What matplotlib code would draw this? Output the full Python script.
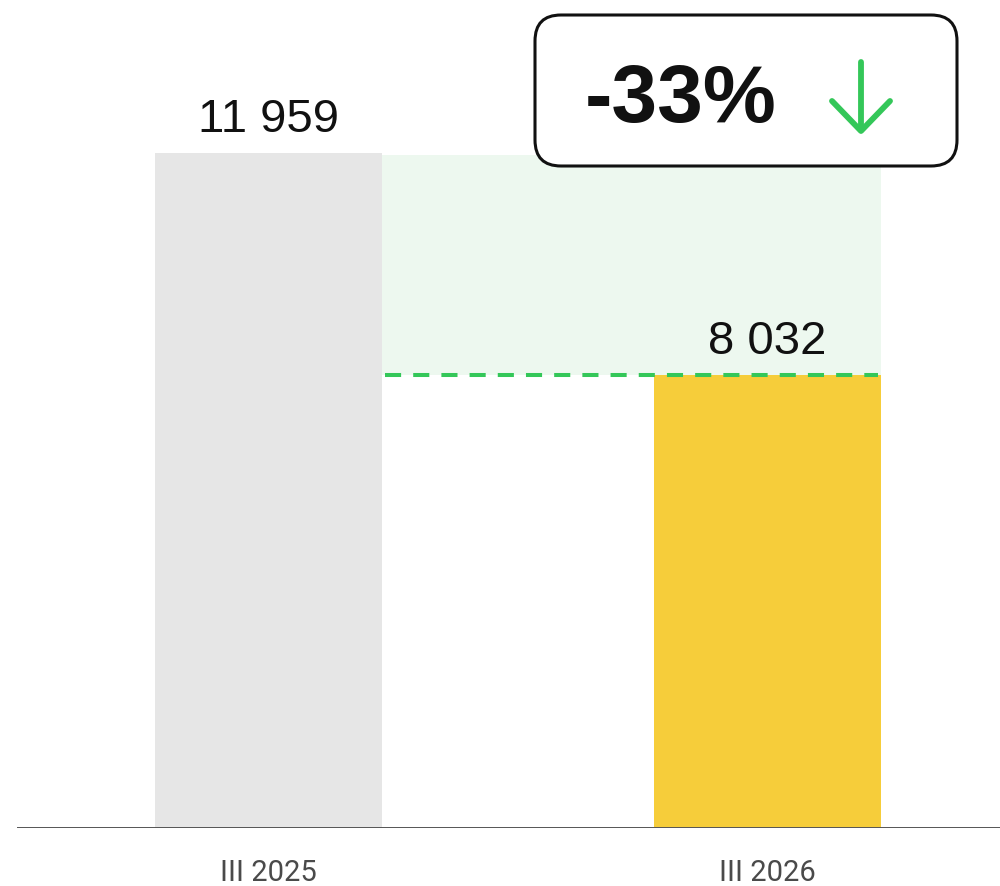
import matplotlib
matplotlib.use('Agg')
import matplotlib.pyplot as plt
from matplotlib.patches import FancyBboxPatch, Rectangle

# data
categories = ['III 2025', 'III 2026']
values = [11959, 8032]
value_labels = ['11 959', '8 032']
change_label = '-33%'

BAR_COLORS = ['#e6e6e6', '#f6cd3a']
GREEN = '#34c759'
SHADE = '#edf8ef'

W, H = 1000, 886
fig = plt.figure(figsize=(W / 100, H / 100), dpi=100)

# axes: baseline at 58 px from the bottom, pixel-matched scale
ax = fig.add_axes([0, 58 / H, 1, 828 / H])
bar_w = 227 / 499
ax.set_xlim(-268.5 / 499, (1000 - 268.5) / 499)
ax.set_ylim(0, values[0] * 828 / 675)
ax.axis('off')

x = list(range(len(categories)))
ax.bar(x, values, width=bar_w, color=BAR_COLORS, zorder=2)

# shaded drop zone + dashed level line
x0 = x[0] + bar_w / 2
x1 = x[1] + bar_w / 2
ax.add_patch(Rectangle((x0, values[1]), x1 - x0, values[0] - values[1] - 30,
                       facecolor=SHADE, edgecolor='none', zorder=1))
ax.plot([x0 + 0.006, x1 - 0.006], [values[1], values[1]], color=GREEN, lw=2.9,
        dashes=(4, 3), dash_capstyle='butt', zorder=3)

# value labels above bars
for xi, v, lab in zip(x, values, value_labels):
    ax.annotate(lab, (xi, v), xytext=(0, 21 * 0.72), textcoords='offset points',
                ha='center', va='baseline', fontsize=34,
                family='Liberation Sans', color='#111111')

# baseline
ax.axhline(0, xmin=18 / W, xmax=1, color='#555555', lw=1.4, zorder=4)

# category labels
for xi, cat in zip(x, categories):
    ax.annotate(cat, (xi, 0), xytext=(0, -53 * 0.72), textcoords='offset points',
                ha='center', va='baseline', fontsize=21, family='Roboto',
                color='#4a4a4a')

# change badge
box = FancyBboxPatch((535 / W, (H - 166) / H), 422 / W, 151 / H,
                     boxstyle='round,pad=0,rounding_size=0.026',
                     transform=fig.transFigure, facecolor='white',
                     edgecolor='#111111', lw=2.2, zorder=5,
                     mutation_aspect=W / H)
fig.patches.append(box)
fig.text(585 / W, (H - 122) / H, change_label, ha='left', va='baseline',
         fontsize=59, family='Liberation Sans', weight='bold', color='#111111',
         zorder=6)

# arrow
fig.lines.append(plt.Line2D([861 / W, 861 / W], [(H - 62) / H, (H - 130) / H],
                            transform=fig.transFigure, color=GREEN, lw=4.2,
                            solid_capstyle='round', zorder=6))
fig.lines.append(plt.Line2D([832 / W, 861 / W, 890 / W],
                            [(H - 101) / H, (H - 131) / H, (H - 101) / H],
                            transform=fig.transFigure, color=GREEN, lw=4.2,
                            solid_capstyle='round', solid_joinstyle='round',
                            zorder=6))

fig.savefig('out.png', dpi=100)
